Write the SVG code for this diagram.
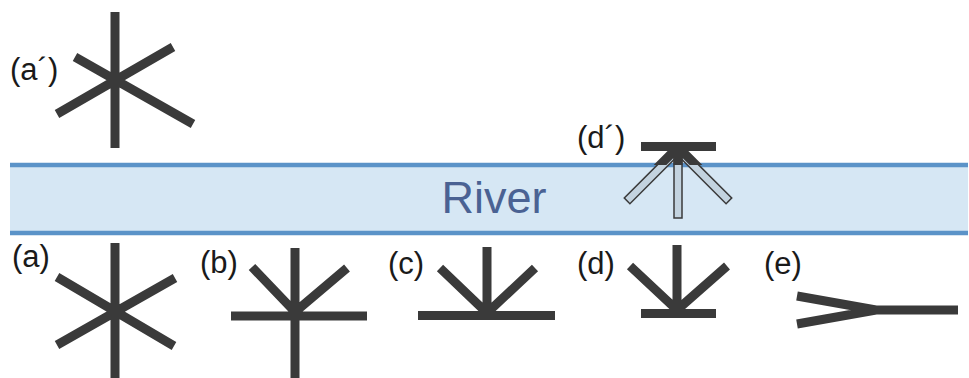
<svg xmlns="http://www.w3.org/2000/svg" width="969" height="378" viewBox="0 0 969 378">
<style>
.sym{stroke:#3a3a3a;stroke-width:9;fill:none;stroke-linecap:butt}
.lbl{font-family:"Liberation Sans",Arial,sans-serif;font-size:31px;fill:#1a1a1a}
.bank{stroke:#5b93c8;stroke-width:4.5}
.sub{fill:#c3d3df;stroke:#3a3a3a;stroke-width:1.5}
</style>
<defs>
<clipPath id="above"><rect x="0" y="0" width="969" height="165"/></clipPath>
</defs>
<rect width="969" height="378" fill="#ffffff"/>
<g id="river">
<rect x="10" y="165" width="958" height="68" fill="#d6e7f4"/>
<line class="bank" x1="10" y1="165" x2="968" y2="165"/>
<line class="bank" x1="10" y1="233" x2="968" y2="233"/>
<text x="494" y="213" text-anchor="middle" font-family="'Liberation Sans',Arial,sans-serif" font-size="45" fill="#4a6293">River</text>
</g>
<g id="a-prime">
<text class="lbl" x="10" y="80">(a´)</text>
<path class="sym" d="M115 12V148M57 114L173 47M75 57L193 124"/>
</g>
<g id="d-prime">
<text class="lbl" x="577" y="148">(d´)</text>
<rect class="sub" x="-4" y="0" width="8" height="72" transform="translate(678,150) rotate(45)"/>
<rect class="sub" x="-4" y="0" width="8" height="72" transform="translate(678,150) rotate(-45)"/>
<rect class="sub" x="674" y="150" width="8" height="68"/>
<g clip-path="url(#above)">
<path class="sym" d="M678 147V170M678 147L628 197M678 147L728 197"/>
</g>
<line class="sym" x1="641" y1="146.5" x2="716" y2="146.5"/>
</g>
<g id="a">
<text class="lbl" x="12" y="267">(a)</text>
<path class="sym" d="M115 243V378M57 277L174 346M57 345L175 278"/>
</g>
<g id="b">
<text class="lbl" x="200" y="273">(b)</text>
<path class="sym" d="M295 248V378M231 316H367M295 312L252 267M295 312L347 268"/>
</g>
<g id="c">
<text class="lbl" x="388" y="274">(c)</text>
<path class="sym" d="M487 247V316M418 315.5H555M487 313L440 268M487 313L535 268"/>
</g>
<g id="d">
<text class="lbl" x="577" y="274">(d)</text>
<path class="sym" d="M677 245V313M641 313.5H716M677 310L630 266M677 310L727 266"/>
</g>
<g id="e">
<text class="lbl" x="764" y="274">(e)</text>
<path class="sym" d="M876 310H958M797 296L876 310M797 324L876 310"/>
</g>
<g id="connectors"></g>
</svg>
